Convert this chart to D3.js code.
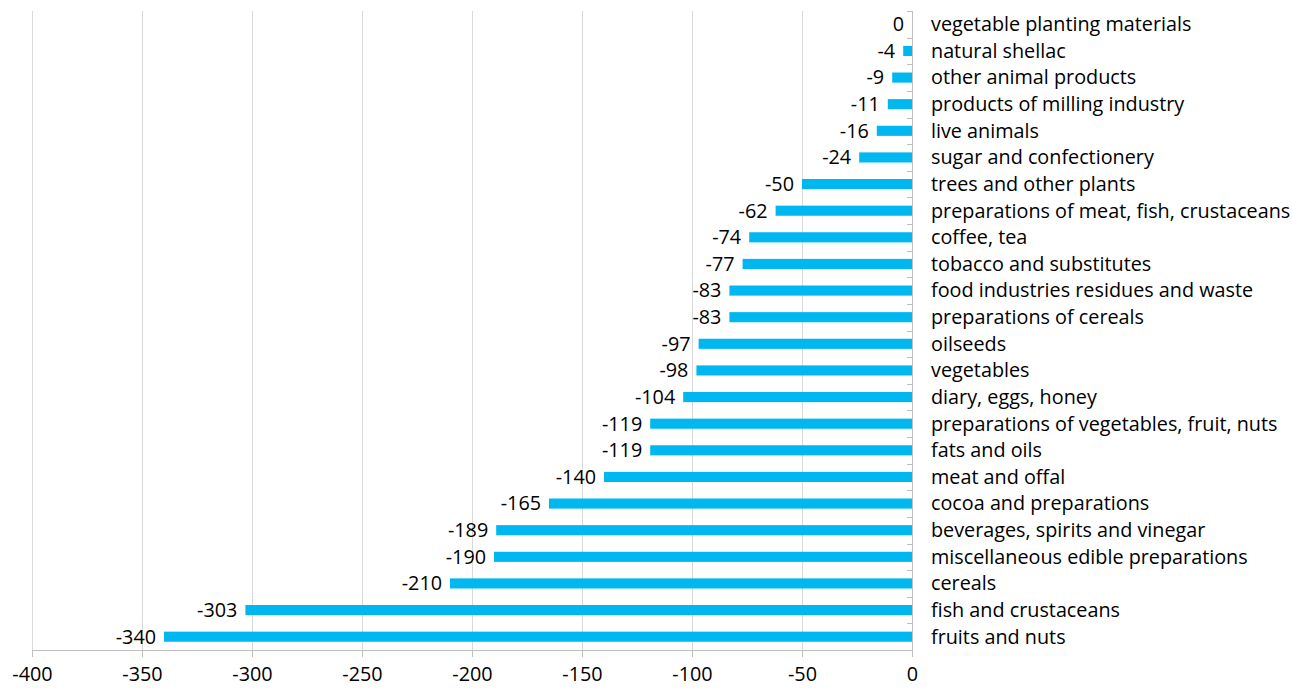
<!DOCTYPE html>
<html><head><meta charset="utf-8">
<script src="https://cdn.jsdelivr.net/npm/d3@7"></script>
<style>body{margin:0;background:#fff;} svg{display:block;font-family:"Open Sans","Liberation Sans",sans-serif;}</style>
</head><body><svg id="c" width="1293" height="688"></svg>
<script>
const categories = ["vegetable planting materials","natural shellac","other animal products","products of milling industry","live animals","sugar and confectionery","trees and other plants","preparations of meat, fish, crustaceans","coffee, tea","tobacco and substitutes","food industries residues and waste","preparations of cereals","oilseeds","vegetables","diary, eggs, honey","preparations of vegetables, fruit, nuts","fats and oils","meat and offal","cocoa and preparations","beverages, spirits and vinegar","miscellaneous edible preparations","cereals","fish and crustaceans","fruits and nuts"];
const values = [0,-4,-9,-11,-16,-24,-50,-62,-74,-77,-83,-83,-97,-98,-104,-119,-119,-140,-165,-189,-190,-210,-303,-340];
const xTicks = [-400,-350,-300,-250,-200,-150,-100,-50,0];

(function(){
const svg = d3.select("#c");
const mL = 32, mR = 912, mT = 11, mB = 650;
const FS = 19.8;
const x = d3.scaleLinear().domain([-400,0]).range([mL,mR]);
const y = d3.scaleBand().domain(categories).range([mT,mB]).paddingInner(0.62).paddingOuter(0.31);

svg.append("g").selectAll("line").data(xTicks.slice(0,-1)).join("line")
  .attr("x1",d=>x(d)+0.5).attr("x2",d=>x(d)+0.5).attr("y1",mT).attr("y2",mB)
  .attr("stroke","#d9d9d9").attr("stroke-width",1);

svg.append("g").selectAll("rect").data(values).join("rect")
  .attr("x",d=>x(d)).attr("width",d=>Math.max(x(0)-x(d),1))
  .attr("y",(d,i)=>y(categories[i])).attr("height",y.bandwidth())
  .attr("fill",(d)=> d===0 ? "#bfe9f9" : "#00b8ef");

const xa = svg.append("g").attr("transform",`translate(0,${mB})`)
  .call(d3.axisBottom(x).tickValues(xTicks).tickSize(7).tickPadding(10).tickFormat(d=>String(d)));
xa.select(".domain").attr("stroke","#bfbfbf").attr("d",`M${mL},0.5H${mR}`);
xa.selectAll(".tick line").attr("stroke","#bfbfbf");
xa.selectAll(".tick text").attr("font-size",FS).attr("fill","#000").attr("font-family","Open Sans, sans-serif");

svg.append("line").attr("x1",mR+0.5).attr("x2",mR+0.5).attr("y1",mT).attr("y2",mB).attr("stroke","#bfbfbf");
const bounds = d3.range(categories.length+1).map(i=>mT + i*(mB-mT)/categories.length);
svg.append("g").selectAll("line").data(bounds).join("line")
  .attr("x1",mR-5).attr("x2",mR).attr("y1",d=>Math.round(d)+0.5).attr("y2",d=>Math.round(d)+0.5)
  .attr("stroke","#bfbfbf");

svg.append("g").selectAll("text").data(values).join("text")
  .attr("x",d=>x(d)-8).attr("y",(d,i)=>y(categories[i])+y.bandwidth()/2)
  .attr("dy","0.35em").attr("text-anchor","end").attr("font-size",FS).attr("fill","#000")
  .text(d=>String(d));

svg.append("g").selectAll("text").data(categories).join("text")
  .attr("x",931).attr("y",d=>y(d)+y.bandwidth()/2).attr("dy","0.35em")
  .attr("font-size",FS).attr("fill","#000").text(d=>d);
})();
</script></body></html>
